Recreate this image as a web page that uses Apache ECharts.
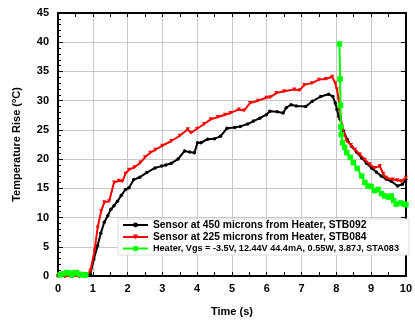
<!DOCTYPE html>
<html><head><meta charset="utf-8">
<script src="https://cdn.jsdelivr.net/npm/echarts@6/dist/echarts.min.js"></script>
<style>html,body{margin:0;padding:0;background:#fff}#c{width:415px;height:322px}</style>
</head><body><div id="c"></div>
<script>
const seriesNames = [
  "Sensor at 450 microns from Heater, STB092",
  "Sensor at 225 microns from Heater, STB084",
  "Heater, Vgs = -3.5V, 12.44V 44.4mA, 0.55W, 3.87J, STA083"
];
const xTicks = [0,1,2,3,4,5,6,7,8,9,10];
const yTicks = [0,5,10,15,20,25,30,35,40,45];

const blackT = [0,0.2,0.4,0.6,0.8,0.93,1.03,1.14,1.23,1.33,1.43,1.52,1.61,1.71,1.82,1.94,2.04,2.18,2.35,2.55,2.79,2.98,3.1,3.26,3.45,3.64,3.78,3.92,4.01,4.11,4.3,4.5,4.67,4.86,5.08,5.24,5.45,5.62,5.8,5.99,6.09,6.3,6.47,6.56,6.7,6.85,7.12,7.31,7.55,7.78,7.9,7.97,8.02,8.07,8.11,8.21,8.32,8.44,8.58,8.73,8.87,9.01,9.15,9.29,9.43,9.58,9.76,9.9,10.0];
const blackV = [0,0,0,0,0,0.3,2.9,5.2,7.3,9.2,10.3,11.4,12.0,12.8,13.8,14.8,15.1,16.5,16.9,17.7,18.5,18.8,19.0,19.3,20.0,21.4,21.2,21.1,22.8,22.8,23.4,23.5,23.9,25.3,25.4,25.6,26.0,26.5,27.0,27.6,28.2,28.1,27.9,28.8,29.3,29.1,29.0,29.9,30.7,31.1,30.7,29.6,28.5,27.3,26.8,24.8,23.3,22.2,21.2,20.2,19.3,18.5,17.8,17.1,16.6,16.2,15.4,15.7,16.5];

const redT = [0,0.2,0.4,0.6,0.8,0.93,1.05,1.14,1.24,1.33,1.47,1.61,1.75,1.85,1.94,2.04,2.2,2.37,2.5,2.65,2.8,3.0,3.26,3.5,3.73,3.82,4.0,4.2,4.39,4.6,4.8,4.96,5.2,5.35,5.52,5.75,5.99,6.1,6.28,6.5,6.79,6.95,7.08,7.3,7.5,7.7,7.88,7.97,8.02,8.07,8.16,8.3,8.42,8.54,8.68,8.82,8.96,9.1,9.25,9.35,9.43,9.62,9.75,9.86,10.0];
const redV = [0,0,0,0,0,0.9,4.3,8.3,11.1,12.6,12.8,16.0,16.3,16.2,17.5,18.2,18.6,19.4,20.3,21.1,21.6,22.3,23.1,24.0,25.1,24.5,25.2,26.0,26.8,27.2,27.6,27.9,28.5,28.3,29.6,30.0,30.5,30.6,31.3,31.6,31.9,31.8,32.7,33.0,33.6,33.7,34.1,33.0,31.9,30.2,25.6,23.1,22.4,21.6,20.8,19.9,19.1,18.5,18.8,17.5,16.8,16.5,16.4,16.2,16.8];

const greenT = [0.06,0.15,0.25,0.32,0.39,0.47,0.53,0.62,0.7,0.76,0.8,null,8.09,8.11,8.12,8.13,8.14,8.18,8.24,8.3,8.4,8.49,8.6,8.73,8.82,8.91,9.0,9.1,9.2,9.3,9.39,9.5,9.58,9.65,9.72,9.85,9.95,10.0];
const greenV = [0.2,0.4,0.6,0.5,0.2,0.5,0.6,0.3,0.2,0.2,0.2,null,39.7,33.7,29.2,25.5,24.2,22.8,22.0,21.1,20.3,19.4,18.4,17.1,16.0,15.4,15.3,14.6,14.8,14.1,13.7,13.5,13.7,12.9,12.3,12.5,12.3,12.2];

const pair = (t, v) => t.map((x, i) => x === null ? [null, null] : [x, v[i]]);
const F = '"Liberation Sans", Arial, sans-serif';

const chart = echarts.init(document.getElementById('c'), null, {renderer: 'canvas'});
chart.setOption({
  animation: false,
  grid: {left: 58, right: 3, top: 13, bottom: 45, containLabel: false},
  xAxis: [{
    type: 'value', min: 0, max: 10, interval: 1, position: 'bottom',
    name: 'Time (s)', nameLocation: 'middle', nameGap: 30,
    nameTextStyle: {fontFamily: F, fontWeight: 'bold', fontSize: 11, color: '#000'},
    axisLine: {show: true, onZero: false, lineStyle: {color: '#000', width: 2}},
    axisTick: {show: true, inside: true, length: 4, lineStyle: {color: '#000', width: 1}},
    minorTick: {show: true, splitNumber: 2, length: 4, lineStyle: {color: '#000', width: 1}},
    axisLabel: {fontFamily: F, fontWeight: 'bold', fontSize: 11, color: '#000', margin: 7,
      formatter: v => xTicks.includes(v) ? String(v) : ''},
    splitLine: {show: true, lineStyle: {color: '#c8c8c8', width: 1}}
  }, {
    type: 'value', min: 0, max: 10, interval: 1, position: 'top',
    axisLine: {show: true, onZero: false, lineStyle: {color: '#000', width: 2}},
    axisTick: {show: true, inside: true, length: 4, lineStyle: {color: '#000'}},
    minorTick: {show: true, splitNumber: 2, length: 4, lineStyle: {color: '#000'}},
    axisLabel: {show: false}, splitLine: {show: false}
  }],
  yAxis: [{
    type: 'value', min: 0, max: 45, interval: 5, position: 'left',
    name: '{a|Temperature Rise (}{s|o}{a|C)}', nameLocation: 'middle', nameGap: 35,
    nameTextStyle: {rich: {
      a: {fontFamily: F, fontWeight: 'bold', fontSize: 11, color: '#000'},
      s: {fontFamily: F, fontWeight: 'bold', fontSize: 7, color: '#000', verticalAlign: 'top', padding: [0,0,5,0]}
    }},
    axisLine: {show: true, onZero: false, lineStyle: {color: '#000', width: 2}},
    axisTick: {show: true, inside: true, length: 5, lineStyle: {color: '#000'}},
    minorTick: {show: true, splitNumber: 5, length: 3, lineStyle: {color: '#000'}},
    axisLabel: {fontFamily: F, fontWeight: 'bold', fontSize: 11, color: '#000', margin: 9,
      formatter: v => yTicks.includes(v) ? String(v) : ''},
    splitLine: {show: true, lineStyle: {color: '#c8c8c8', width: 1}}
  }, {
    type: 'value', min: 0, max: 45, interval: 5, position: 'right',
    axisLine: {show: true, onZero: false, lineStyle: {color: '#000', width: 2}},
    axisTick: {show: true, inside: true, length: 5, lineStyle: {color: '#000'}},
    axisLabel: {show: false}, splitLine: {show: false}
  }],
  legend: {
    orient: 'vertical', left: 118, top: 219, itemWidth: 25, itemHeight: 6, itemGap: 2,
    padding: [1, 10, 2, 4], backgroundColor: '#fff', borderColor: '#ddd', borderWidth: 1,
    borderRadius: 0,
    data: [
      {name: seriesNames[0], textStyle: {fontFamily: F, fontWeight: 'bold', fontSize: 10.3, color: '#000'}},
      {name: seriesNames[1], textStyle: {fontFamily: F, fontWeight: 'bold', fontSize: 10.3, color: '#000'}},
      {name: seriesNames[2], textStyle: {fontFamily: F, fontWeight: 'bold', fontSize: 9.1, color: '#000'}}
    ]
  },
  series: [{
    name: seriesNames[0], type: 'line', data: pair(blackT, blackV),
    symbol: 'circle', symbolSize: 3.5, showAllSymbol: true,
    itemStyle: {color: '#000'}, lineStyle: {color: '#000', width: 2}, z: 3
  }, {
    name: seriesNames[1], type: 'line', data: pair(redT, redV),
    symbol: 'triangle', symbolRotate: 180, symbolSize: 4, showAllSymbol: true,
    itemStyle: {color: '#ff0000'}, lineStyle: {color: '#ff0000', width: 2}, z: 4
  }, {
    name: seriesNames[2], type: 'line', data: pair(greenT, greenV), connectNulls: false,
    symbol: 'rect', symbolSize: 5.5, showAllSymbol: true,
    itemStyle: {color: '#00ff00'}, lineStyle: {color: '#00ff00', width: 2}, z: 5
  }]
});
</script></body></html>
